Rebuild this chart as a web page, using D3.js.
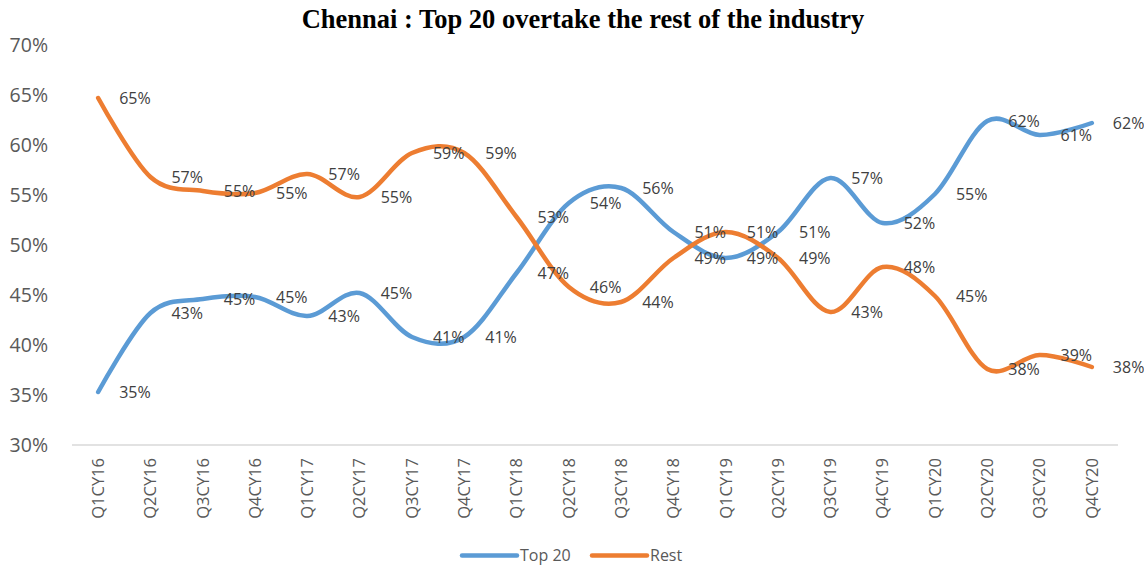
<!DOCTYPE html>
<html>
<head>
<meta charset="utf-8">
<script src="https://cdn.jsdelivr.net/npm/d3@7"></script>
<style>
  html, body { margin: 0; padding: 0; background: #fff; }
  svg { display: block; }
</style>
</head>
<body>
<script>
const categories = ["Q1CY16","Q2CY16","Q3CY16","Q4CY16","Q1CY17","Q2CY17","Q3CY17","Q4CY17",
  "Q1CY18","Q2CY18","Q3CY18","Q4CY18","Q1CY19","Q2CY19","Q3CY19","Q4CY19",
  "Q1CY20","Q2CY20","Q3CY20","Q4CY20"];
const top20 = [35.3, 43.2, 44.6, 44.8, 42.9, 45.2, 40.8, 40.8,
  47.2, 54.2, 55.7, 51.3, 48.7, 51.3, 56.7, 52.2,
  55.1, 62.4, 61.0, 62.2];
const rest = [64.7, 56.8, 55.4, 55.2, 57.1, 54.8, 59.2, 59.2,
  52.8, 45.8, 44.3, 48.7, 51.3, 48.7, 43.3, 47.8,
  44.9, 37.6, 39.0, 37.8];
const yTicks = [30, 35, 40, 45, 50, 55, 60, 65, 70];
const seriesNames = ["Top 20", "Rest"];
const seriesColors = ["#5B9BD5", "#ED7D31"];
const title = "Chennai : Top 20 overtake the rest of the industry";

const W = 1144, H = 565;
const svg = d3.select("body").append("svg").attr("width", W).attr("height", H);

const x = d3.scaleBand().domain(categories).range([72, 1118]);
const y = d3.scaleLinear().domain([30, 70]).range([445, 45]);
const cx = c => x(c) + x.bandwidth() / 2;

const font = "'Open Sans', 'DejaVu Sans', sans-serif";

// title
svg.append("text")
  .attr("x", 583).attr("y", 28)
  .attr("text-anchor", "middle")
  .attr("font-family", "'Liberation Serif', 'Times New Roman', serif")
  .attr("font-weight", "bold")
  .attr("font-size", 26.5)
  .attr("fill", "#000")
  .text(title);

// y tick labels
const yAxis = d3.axisLeft(y).tickValues(yTicks).tickFormat(d => d + "%").tickSize(0).tickPadding(0);
const gy = svg.append("g").attr("transform", "translate(48,0)").call(yAxis);
gy.select(".domain").remove();
gy.selectAll("text").attr("font-family", font).attr("font-size", 19.5).attr("fill", "#595959");

// bottom axis line
svg.append("line")
  .attr("x1", 72).attr("x2", 1118)
  .attr("y1", y(30)).attr("y2", y(30))
  .attr("stroke", "#d9d9d9").attr("stroke-width", 1.3);

// x labels
const xAxis = d3.axisBottom(x).tickSize(0).tickPadding(0);
const gx = svg.append("g").attr("transform", `translate(0,${y(30)})`).call(xAxis);
gx.select(".domain").remove();
gx.selectAll("text")
  .attr("font-family", font).attr("font-size", 16.5).attr("fill", "#595959")
  .attr("text-anchor", "end")
  .attr("transform", "rotate(-90)")
  .attr("x", -13).attr("y", 0).attr("dy", "0.35em");

// lines
const allSeries = [top20, rest];
const line = d3.line()
  .x((d, i) => cx(categories[i]))
  .y(d => y(d))
  .curve(d3.curveCardinal.tension(0));

allSeries.forEach((s, k) => {
  svg.append("path")
    .datum(s)
    .attr("d", line)
    .attr("fill", "none")
    .attr("stroke", seriesColors[k])
    .attr("stroke-width", 4.5)
    .attr("stroke-linecap", "round")
    .attr("stroke-linejoin", "round");
});

// data labels
const fmt = v => Math.round(v) + "%";
allSeries.forEach((s, k) => {
  svg.append("g").selectAll("text")
    .data(s)
    .join("text")
    .attr("x", (d, i) => cx(categories[i]) + 21)
    .attr("y", d => y(d))
    .attr("dy", "0.35em")
    .attr("font-family", font)
    .attr("font-size", 16)
    .attr("fill", "#404040")
    .text(fmt);
});

// legend
const legend = svg.append("g");
const legendItems = [{x: 462, w: 55}, {x: 592, w: 55}];
seriesNames.forEach((n, k) => {
  const lx = legendItems[k].x;
  legend.append("line")
    .attr("x1", lx).attr("x2", lx + legendItems[k].w)
    .attr("y1", 555.5).attr("y2", 555.5)
    .attr("stroke", seriesColors[k]).attr("stroke-width", 4.5)
    .attr("stroke-linecap", "round");
  legend.append("text")
    .attr("x", lx + legendItems[k].w + 3).attr("y", 555.5).attr("dy", "0.35em")
    .attr("font-family", font).attr("font-size", 16).attr("fill", "#595959")
    .text(n);
});
</script>
</body>
</html>
